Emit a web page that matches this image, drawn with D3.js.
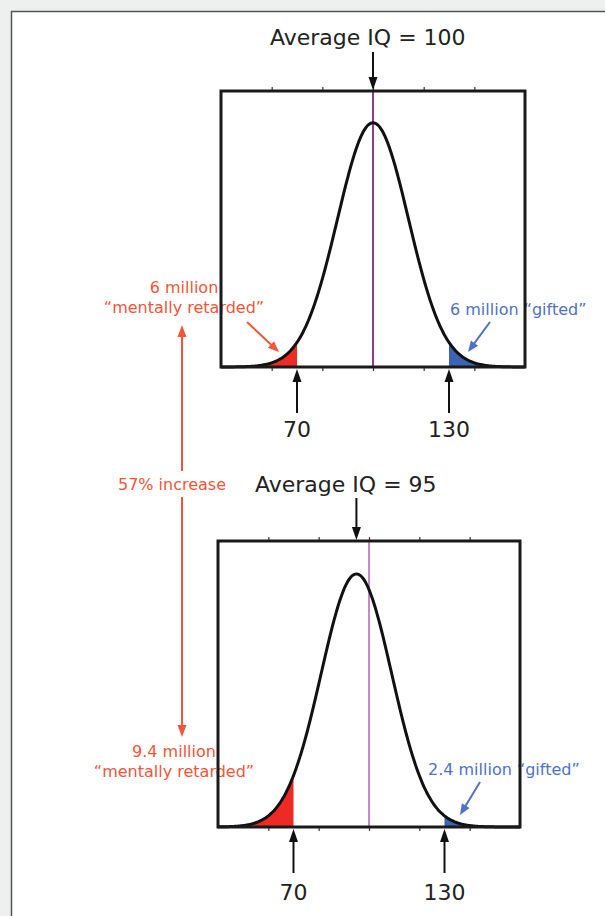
<!DOCTYPE html>
<html lang="en">
<head>
    <meta charset="UTF-8">
    <title>IQ distribution shift</title>
    <script src="https://d3js.org/d3.v7.min.js"></script>
    <style>
        body {
            margin: 0;
            padding: 0;
            background: #eef0ef;
            font-family: "DejaVu Sans", Verdana, sans-serif;
        }
        svg { display: block; }
    </style>
</head>
<body>
    <div id="chart"></div>
    <script>
        // Data
        const titles = ["Average IQ = 100", "Average IQ = 95"];
        const meanIQ = [100, 95];
        const sdIQ = [14, 14];
        const refIQ = 100;
        const cutoffs = [70, 130];
        const cutoffLabels = ["70", "130"];
        const lowLabels = [["6 million", "\u201cmentally retarded\u201d"], ["9.4 million", "\u201cmentally retarded\u201d"]];
        const highLabels = ["6 million \u201cgifted\u201d", "2.4 million \u201cgifted\u201d"];
        const changeLabel = "57% increase";
        const axisTicks = [60, 80, 100, 120, 140];
        const iqDomain = [40, 160];

        const width = 605, height = 916;
        const red = "#ee2a24", redText = "#f2553a", blue = "#3d63b3", blueText = "#5072c2";

        const svg = d3.select("#chart").append("svg")
            .attr("width", width)
            .attr("height", height);

        // white sheet with thin border
        svg.append("rect")
            .attr("x", 11.5).attr("y", 11.5)
            .attr("width", width + 20).attr("height", height + 20)
            .attr("fill", "#ffffff")
            .attr("stroke", "#555").attr("stroke-width", 1.5);

        // layout of the two panels
        const boxes = [
            { x0: 221, x1: 525, y0: 91, y1: 367, purple: "#8d3c8f", titleX: 270, titleY: 45, arrowTop: 52, labelY: 437 },
            { x0: 218, x1: 520, y0: 541, y1: 827, purple: "#c68ac8", titleX: 255, titleY: 492, arrowTop: 498, labelY: 900 }
        ];

        function arrow(g, x1, y1, x2, y2, color, sw, hl, hw) {
            const a = Math.atan2(y2 - y1, x2 - x1);
            const bx = x2 - hl * Math.cos(a), by = y2 - hl * Math.sin(a);
            g.append("line")
                .attr("x1", x1).attr("y1", y1)
                .attr("x2", bx + Math.cos(a)).attr("y2", by + Math.sin(a))
                .attr("stroke", color).attr("stroke-width", sw);
            const px = -Math.sin(a) * hw / 2, py = Math.cos(a) * hw / 2;
            g.append("path")
                .attr("d", `M${x2},${y2}L${bx + px},${by + py}L${bx - px},${by - py}Z`)
                .attr("fill", color);
        }

        const texts = svg.append("g");
        const marks = svg.append("g");

        boxes.forEach((b, i) => {
            const x = d3.scaleLinear().domain(iqDomain).range([b.x0, b.x1]);
            const y = d3.scaleLinear().domain([0, 1.13]).range([b.y1, b.y0]);
            const dens = v => Math.exp(-0.5 * Math.pow((v - meanIQ[i]) / sdIQ[i], 2));
            const pts = d3.range(iqDomain[0], iqDomain[1] + 0.01, 0.5).map(v => ({ v, d: dens(v) }));

            const area = d3.area().x(p => x(p.v)).y0(y(0)).y1(p => y(p.d));
            const line = d3.line().x(p => x(p.v)).y(p => y(p.d)).curve(d3.curveBasis);

            const g = marks.append("g");

            // tails
            g.append("path").datum(pts.filter(p => p.v <= cutoffs[0]))
                .attr("d", area).attr("fill", red);
            g.append("path").datum(pts.filter(p => p.v >= cutoffs[1]))
                .attr("d", area).attr("fill", blue);

            // reference line at IQ 100
            g.append("line")
                .attr("x1", x(refIQ)).attr("x2", x(refIQ))
                .attr("y1", b.y0).attr("y2", b.y1)
                .attr("stroke", b.purple).attr("stroke-width", 2);

            // bell curve
            g.append("path").datum(pts)
                .attr("d", line)
                .attr("fill", "none").attr("stroke", "#111")
                .attr("stroke-width", 3).attr("stroke-linejoin", "round");

            // ticks on top and bottom edges
            const tickAxisB = d3.axisBottom(x).tickValues(axisTicks).tickSize(3).tickSizeOuter(0).tickFormat("");
            const tickAxisT = d3.axisTop(x).tickValues(axisTicks).tickSize(3).tickSizeOuter(0).tickFormat("");
            const ab = g.append("g").attr("transform", `translate(0,${b.y1 + 1})`).call(tickAxisB);
            const at = g.append("g").attr("transform", `translate(0,${b.y0 - 1})`).call(tickAxisT);
            [ab, at].forEach(a => {
                a.select(".domain").remove();
                a.selectAll(".tick line").attr("stroke", "#333").attr("stroke-width", 1.2);
            });

            // frame
            g.append("rect")
                .attr("x", b.x0).attr("y", b.y0)
                .attr("width", b.x1 - b.x0).attr("height", b.y1 - b.y0)
                .attr("fill", "none").attr("stroke", "#1a1a1a").attr("stroke-width", 3);

            // title and arrow to the mean
            texts.append("text")
                .attr("x", b.titleX).attr("y", b.titleY)
                .attr("font-size", 22).attr("fill", "#222")
                .text(titles[i]);
            arrow(marks, x(meanIQ[i]), b.arrowTop, x(meanIQ[i]), b.y0 - 1, "#111", 2, 13, 9);

            // cutoff arrows and labels
            cutoffs.forEach((c, j) => {
                arrow(marks, x(c), b.y1 + 46, x(c), b.y1 + 2, "#111", 2, 13, 9);
                texts.append("text")
                    .attr("x", x(c)).attr("y", b.labelY)
                    .attr("text-anchor", "middle")
                    .attr("font-size", 22).attr("fill", "#222")
                    .text(cutoffLabels[j]);
            });
        });

        // red and blue annotations
        const lowPos = [{ x: 184, y: 293 }, { x: 174, y: 757 }];
        const highPos = [{ x: 450, y: 315 }, { x: 428, y: 775 }];
        lowLabels.forEach((lines, i) => {
            lines.forEach((t, k) => {
                texts.append("text")
                    .attr("x", lowPos[i].x).attr("y", lowPos[i].y + k * 20)
                    .attr("text-anchor", "middle")
                    .attr("font-size", 16).attr("fill", redText)
                    .text(t);
            });
        });
        highLabels.forEach((t, i) => {
            texts.append("text")
                .attr("x", highPos[i].x).attr("y", highPos[i].y)
                .attr("font-size", 16).attr("fill", blueText)
                .text(t);
        });

        arrow(marks, 247, 322, 279, 352, redText, 2, 11, 9);
        arrow(marks, 490, 322, 468, 352, blueText, 2, 11, 9);
        arrow(marks, 480, 782, 460, 815, blueText, 2, 11, 9);

        // long red arrow with its label
        arrow(marks, 182, 471, 182, 325, redText, 2, 12, 9);
        arrow(marks, 182, 497, 182, 737, redText, 2, 12, 9);
        texts.append("text")
            .attr("x", 172).attr("y", 490)
            .attr("text-anchor", "middle")
            .attr("font-size", 16).attr("fill", redText)
            .text(changeLabel);
    </script>
</body>
</html>
